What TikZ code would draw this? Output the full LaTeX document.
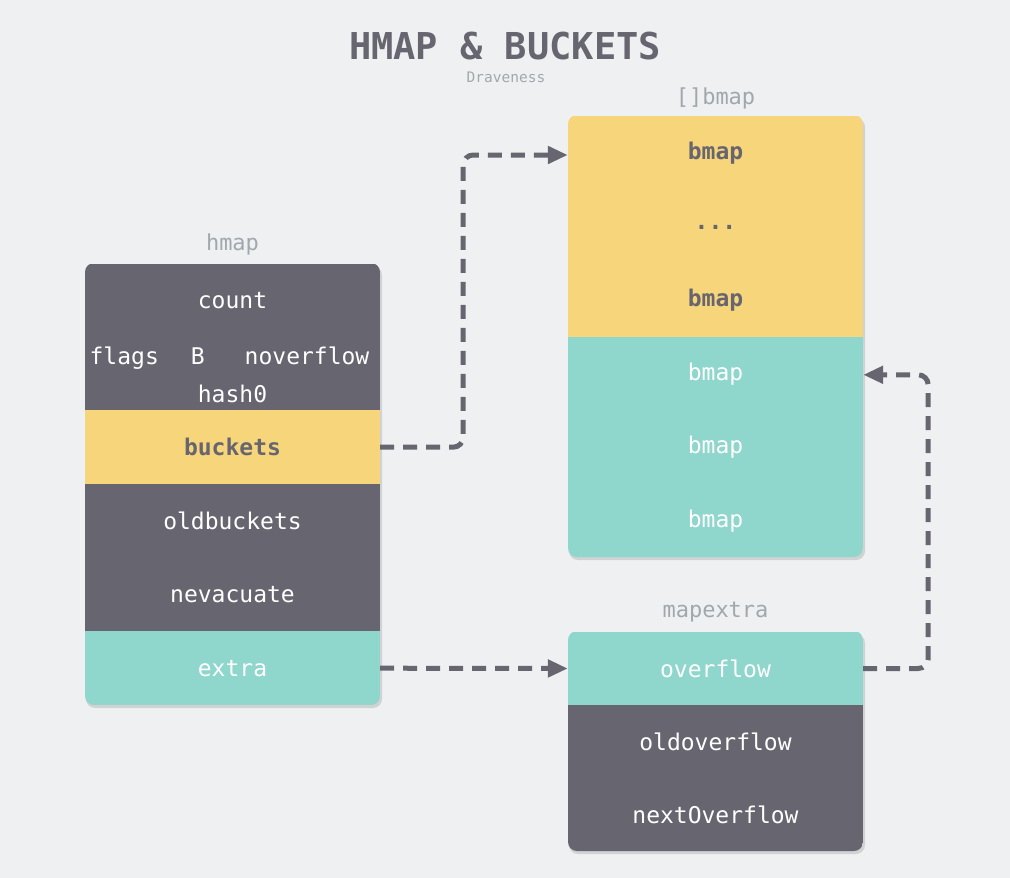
\documentclass[tikz,border=0pt]{standalone}
\usepackage{fontspec}
\usetikzlibrary{arrows.meta}
\newfontfamily\cellfont{DejaVu Sans Mono}
\definecolor{bgc}{HTML}{EFF0F2}
\definecolor{darkc}{HTML}{67656F}
\definecolor{yellowc}{HTML}{F7D57A}
\definecolor{tealc}{HTML}{8FD6CD}
\definecolor{greyc}{HTML}{A0A8AE}
\tikzset{
  row/.style={minimum width=295pt, minimum height=74pt, inner sep=0pt,
    font=\cellfont\fontsize{23}{38}\selectfont},
  darkrow/.style={row, fill=darkc, text=white},
  yellowrow/.style={row, fill=yellowc, text=darkc, font=\cellfont\bfseries\fontsize{23}{38}\selectfont},
  tealrow/.style={row, fill=tealc, text=white},
  boxlabel/.style={text=greyc, font=\cellfont\fontsize{22}{26}\selectfont},
  boxshadow/.style={fill=black, opacity=0.12, rounded corners=9pt},
  link/.style={draw=darkc, line width=5pt, dash pattern=on 14pt off 9pt,
    rounded corners=10pt, -{Triangle[length=20pt,width=17pt]}}
}
\begin{document}
\begin{tikzpicture}[x=1pt,y=-1pt]
  \fill[bgc] (0,0) rectangle (1010,878);
  \useasboundingbox (0,0) rectangle (1010,878);
  \node[text=darkc, font=\cellfont\bfseries\fontsize{37}{40}\selectfont] (title) at (505,46) {HMAP \& BUCKETS};
  \node[text=greyc, font=\cellfont\fontsize{14.5}{16}\selectfont] (author) at (506,77) {Draveness};

  % hmap
  \node[boxlabel] (hmaplbl) at (232.5,244) {hmap};
  \fill[boxshadow] (86,266) rectangle (382,708);
  \begin{scope}
    \clip[rounded corners=9pt] (85,263) rectangle (380,705);
    \node[darkrow] (count) at (232.5,301) {count};
    \node[darkrow, align=center] (flags) at (232.5,375) {\hspace{-6pt}flags\hspace{32pt}B\hspace{40pt}noverflow\\hash0};
    \node[yellowrow] (buckets) at (232.5,447.2) {buckets};
    \node[darkrow] (oldbuckets) at (232.5,520.8) {oldbuckets};
    \node[darkrow] (nevacuate) at (232.5,594.5) {nevacuate};
    \node[tealrow] (extra) at (232.5,668.2) {extra};
  \end{scope}

  % []bmap
  \node[boxlabel] (bmaplbl) at (715.5,98) {[]bmap};
  \fill[boxshadow] (569,118) rectangle (865,560);
  \begin{scope}
    \clip[rounded corners=9pt] (568,115) rectangle (863,557);
    \node[yellowrow] (bmapa) at (715.5,153) {bmap};
    \node[yellowrow] (bmapdots) at (715.5,227) {...};
    \node[yellowrow] (bmapb) at (715.5,300.5) {bmap};
    \node[tealrow] (bmapc) at (715.5,373.8) {bmap};
    \node[tealrow] (bmapd) at (715.5,447.5) {bmap};
    \node[tealrow] (bmape) at (715.5,521.2) {bmap};
  \end{scope}

  % mapextra
  \node[boxlabel] (extralbl) at (715.5,612) {mapextra};
  \fill[boxshadow] (569,634) rectangle (865,854);
  \begin{scope}
    \clip[rounded corners=9pt] (568,631) rectangle (863,851);
    \node[tealrow] (overflow) at (715.5,668.5) {overflow};
    \node[darkrow] (oldoverflow) at (715.5,742) {oldoverflow};
    \node[darkrow] (nextoverflow) at (715.5,815.3) {nextOverflow};
  \end{scope}

  \draw[link] (buckets.east) -- ++(83,0) |- ([yshift=-2pt]bmapa.west);
  \draw[link] (extra.east) -- (overflow.west);
  \draw[link] (overflow.east) -- ++(65,0) |- ([yshift=-1pt]bmapc.east);
\end{tikzpicture}
\end{document}
